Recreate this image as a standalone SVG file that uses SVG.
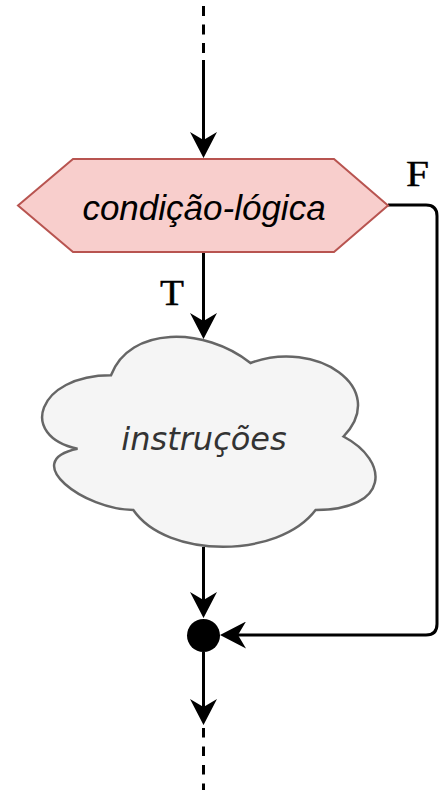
<svg xmlns="http://www.w3.org/2000/svg" width="439" height="790" viewBox="0 0 439 790">
  <style>
    .edge { fill: none; stroke: #000; stroke-width: 3; }
    .dash { fill: none; stroke: #000; stroke-width: 3; }
    .label { font-family: "Liberation Serif", serif; font-size: 35px; fill: #000; stroke: #000; stroke-width: 0.4; }
    .hex { fill: #f8cecc; stroke: #b85450; stroke-width: 2; }
    .cloud { fill: #f5f5f5; stroke: #666666; stroke-width: 2.5; }
  </style>
  <defs>
    <marker id="arr" viewBox="0 0 26 27" refX="8" refY="13.5" markerWidth="26" markerHeight="27" markerUnits="userSpaceOnUse" orient="auto">
      <path d="M0,0 L26,13.5 L0,27 L8,13.5 Z" fill="#000"/>
    </marker>
  </defs>

  <g id="connectors">
    <path class="dash" d="M203.5 6 V61" stroke-dasharray="10 8.5"/>
    <path class="edge" d="M203.5 60 V140" marker-end="url(#arr)"/>
    <path class="edge" d="M203.5 252 V321" marker-end="url(#arr)"/>
    <path class="edge" d="M203.5 547 V600" marker-end="url(#arr)"/>
    <path class="edge" d="M203.5 652 V707" marker-end="url(#arr)"/>
    <path class="dash" d="M203.5 728 V790" stroke-dasharray="9.5 9"/>
    <path class="edge" d="M388 205 H426 Q437 205 437 216 V624 Q437 635 426 635 H238" marker-end="url(#arr)"/>
    <text class="label" x="406" y="186" textLength="23" lengthAdjust="spacingAndGlyphs">F</text>
    <text class="label" x="160" y="305" textLength="24" lengthAdjust="spacingAndGlyphs">T</text>
  </g>

  <g id="condicao">
    <polygon class="hex" points="18,205.5 73,159 334,159 388,205.5 334,252 73,252"/>
    <text x="204" y="220" text-anchor="middle" font-family="Liberation Sans, sans-serif" font-style="italic" font-size="35" fill="#000">condição-lógica</text>
  </g>

  <g id="instrucoes">
    <path class="cloud" d="M111 375.25 C36.6 375.25 18 436.5 77.52 448.75 C18 461 84.96 510 133.32 510 C166.8 559 278.4 559 315.6 510 C390 510 390 461 343.5 436.5 C390 387.5 315.6 338.5 250.5 363 C204 326.25 129.6 326.25 111 375.25 Z"/>
    <text x="204" y="450" text-anchor="middle" font-family="DejaVu Sans, sans-serif" font-style="italic" font-size="32" fill="#333333">instruções</text>
  </g>

  <g id="juncao">
    <circle cx="203.5" cy="635.5" r="16.5" fill="#000"/>
  </g>
</svg>
